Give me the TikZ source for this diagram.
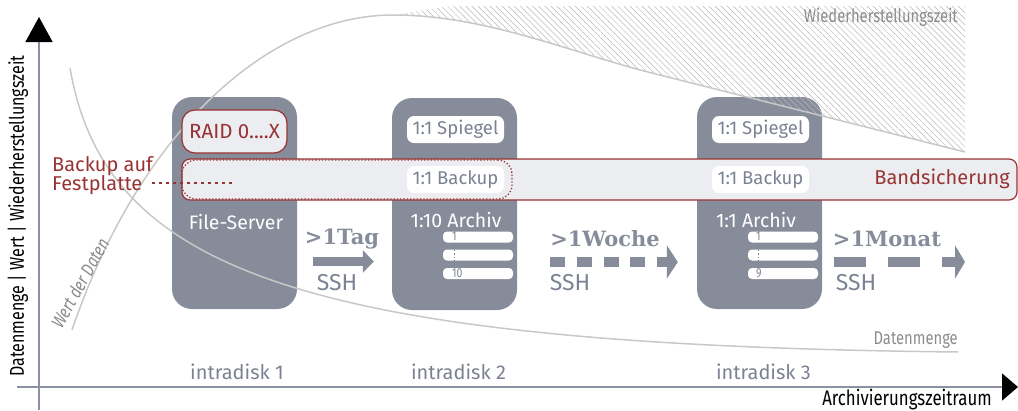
\documentclass[tikz,border=0pt]{standalone}
\usepackage{fontspec}
\setmainfont{Fira Sans}
\newfontfamily\condfont[FakeStretch=0.8]{Fira Sans}
\newfontfamily\slabfont{DejaVu Serif}
\usetikzlibrary{arrows.meta,patterns.meta}
\definecolor{srv}{HTML}{868C99}
\definecolor{rd}{HTML}{983333}
\definecolor{bandfill}{HTML}{ECEDF0}
\definecolor{txtgray}{HTML}{7B8291}
\definecolor{crvc}{HTML}{C8C8C8}
\definecolor{hatchc}{HTML}{B8B8B8}
\definecolor{lblgray}{HTML}{8C8C8C}
\definecolor{axisc}{HTML}{8A92A2}
\newcommand{\fsz}[1]{\fontsize{#1}{#1}\selectfont}
\begin{document}
\begin{tikzpicture}[x=1pt,y=-1pt,
  server/.style={fill=srv, rounded corners=20pt, minimum width=125pt, minimum height=212pt, inner sep=0pt},
  wbox/.style={fill=white, rounded corners=7pt, minimum width=97pt, minimum height=27pt, inner sep=0pt, text=txtgray, font=\fsz{18.5}},
  bar/.style={fill=white, rounded corners=4pt, minimum width=70pt, minimum height=11pt, inner sep=0pt},
  barlbl/.style={text=txtgray, font=\condfont\fsz{13}, inner sep=0pt, anchor=west},
  wtxt/.style={text=white, font=\fsz{19.5}, inner sep=0pt},
  disk/.style={text=txtgray, font=\fsz{20}, inner sep=0pt},
  crv/.style={draw=crvc, line width=1.5pt},
  crvlbl/.style={text=lblgray, font=\condfont\fsz{18.5}, inner sep=0pt},
  band/.style={draw=rd, fill=bandfill, line width=1.2pt, rounded corners=8pt, minimum width=835pt, minimum height=41pt, inner sep=0pt},
  dotbox/.style={draw=rd, dotted, line width=1.3pt, rounded corners=14pt, minimum width=330pt, minimum height=39pt, inner sep=0pt},
  raidbox/.style={draw=rd, fill=bandfill, line width=1.2pt, rounded corners=13pt, minimum width=105pt, minimum height=43pt, inner sep=0pt, text=rd, font=\fsz{20.5}},
  leader/.style={draw=rd, line width=2.6pt, dash pattern=on 2.6pt off 4.4pt},
  vdots/.style={draw=txtgray, line width=0.8pt, dash pattern=on 1.5pt off 2pt},
  big/.style={text=srv, font=\slabfont\bfseries\fsz{21}, inner sep=0pt},
  ssh/.style={text=txtgray, font=\fsz{23}, inner sep=0pt},
  redtxt/.style={text=rd, font=\fsz{20}, inner sep=0pt},
  axis/.style={draw=axisc, line width=1.5pt},
  axlbl/.style={text=black, font=\condfont\fsz{20}, inner sep=0pt}
]
\useasboundingbox (0,0) rectangle (1018,410);

% servers
\node[server] (s1) at (234.5,203) {};
\node[server] (s2) at (454.5,204) {};
\node[server] (s3) at (759.5,203) {};

% hatched recovery-time area
\fill[pattern={Lines[angle=-45,distance=4.3pt,line width=0.5pt]}, pattern color=hatchc]
  (393,15) .. controls (480,15) and (560,48) .. (640,70) -- (965,152) -- (965,6) -- (450,6) -- cycle;

% curves
\draw[crv] (72,330) .. controls (140,130) and (270,15) .. (393,15) .. controls (480,15) and (560,48) .. (640,70) -- (965,152);
\draw[crv] (70,68) .. controls (105,270) and (300,345) .. (958,352);

\node[crvlbl, rotate=61] (wert) at (80,283) {\itshape Wert der Daten};
\node[crvlbl, anchor=east] (dm) at (958,340) {Datenmenge};
\node[crvlbl, anchor=east] (wz) at (958,17) {Wiederherstellungszeit};

% tape band and disk-backup box
\node[band] (band) at (599.5,179.5) {};
\node[dotbox] (hdd) at (347,179.5) {};
\node[redtxt, anchor=east] (bs) at (1010,179) {Bandsicherung};

% server 1
\node[raidbox] (raid) at (234.5,131.5) {RAID 0....X};
\node[wtxt] (fs) at (236,222) {File-Server};
\node[redtxt, align=left, anchor=west] (bk) at (52,176) {Backup auf\\[-1pt]Festplatte};
\coordinate (ldend) at (232,183);
\draw[leader] (bk.east |- ldend) ++(-1,0) -- (ldend);

% server 2
\node[wbox] (sp2) at (455.5,129.5) {1:1 Spiegel};
\node[wbox] (bu2) at (455.5,179.5) {1:1 Backup};
\node[wtxt] (ar2) at (456,220) {1:10 Archiv};
\node[bar] (b21) at (478,237) {};
\node[bar] (b22) at (478,255) {};
\node[bar] (b23) at (478,273.5) {};
\node[barlbl] (l21) at (452,236.5) {1};
\node[barlbl] (l23) at (452,273) {10};
\draw[vdots] (b21.south -| l21) -- (b23.north -| l21);

% server 3
\node[wbox] (sp3) at (760.5,129.5) {1:1 Spiegel};
\node[wbox] (bu3) at (760.5,179.5) {1:1 Backup};
\node[wtxt] (ar3) at (756,220) {1:1 Archiv};
\node[bar] (b31) at (783,237) {};
\node[bar] (b32) at (783,255) {};
\node[bar] (b33) at (783,273.5) {};
\node[barlbl] (l31) at (756,236.5) {1};
\node[barlbl] (l33) at (756,273) {9};
\draw[vdots] (b31.south -| l31) -- (b33.north -| l31);

% disk labels
\node[disk] (d1) at (237,372) {intradisk 1};
\node[disk] (d2) at (458.5,372) {intradisk 2};
\node[disk] (d3) at (763.5,372) {intradisk 3};

% transfer arrows
\draw[srv, line width=9pt, -{Triangle[length=11pt,width=22pt]}, shorten <=16pt, shorten >=18pt]
  (s1.east |- 0,261.5) -- (s2.west |- 0,261.5);
\draw[srv, line width=10pt, dash pattern=on 15pt off 11.7pt, -{Triangle[length=11pt,width=33pt]}, shorten <=33pt, shorten >=19pt]
  (s2.east |- 0,262) -- (s3.west |- 0,262);
\coordinate (mend) at (965,262);
\draw[srv, line width=10pt, dash pattern=on 32pt off 22pt, -{Triangle[length=10pt,width=33pt]}, shorten <=12pt]
  (s3.east |- mend) -- (mend);

\node[big] (t1) at (342,239) {>1Tag};
\node[big] (t2) at (605,239) {>1Woche};
\node[big] (t3) at (887,239) {>1Monat};
\node[ssh] (h1) at (337,283) {SSH};
\node[ssh] (h2) at (570,283) {SSH};
\node[ssh] (h3) at (856,283) {SSH};

% axes
\draw[axis, -{Triangle[length=25pt,width=27pt,color=black,fill=black]}] (39,410) -- (39,17);
\draw[axis, -{Triangle[length=16pt,width=27pt,color=black,fill=black]}] (17,387) -- (1018,387);
\node[axlbl, rotate=90] (ylab) at (18,216) {Datenmenge | Wert | Wiederherstellungszeit};
\node[axlbl, font=\condfont\fsz{21}] (xlab) at (907,400) {Archivierungszeitraum};
\end{tikzpicture}
\end{document}
